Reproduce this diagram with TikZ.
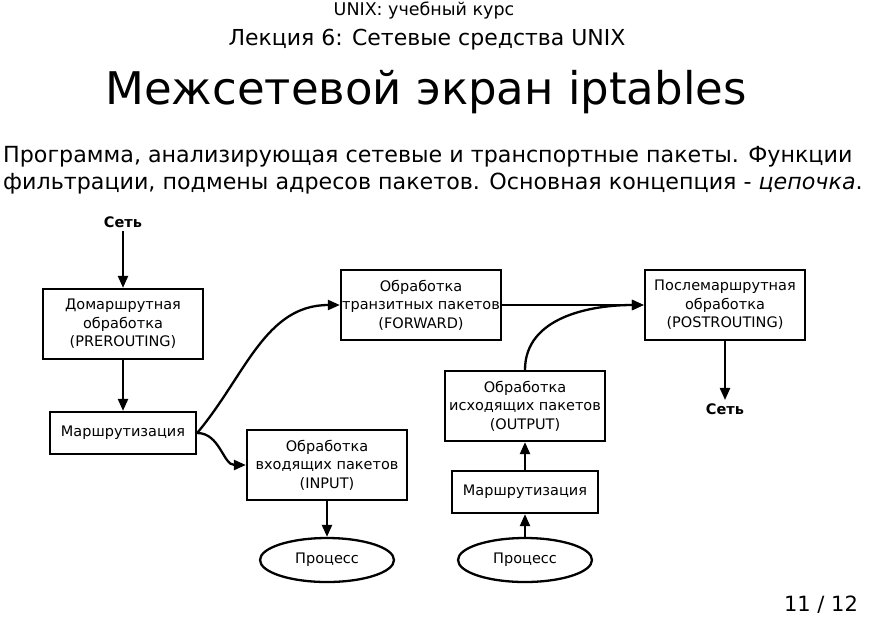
\documentclass[tikz,border=0pt]{standalone}
\usepackage{fontspec}
\setmainfont{DejaVu Sans}
\usetikzlibrary{arrows.meta,shapes.geometric}
\begin{document}
\begin{tikzpicture}[x=1pt,y=-1pt,
  txt/.style={font=\fontsize{14.5}{18.5}\selectfont},
  box/.style={txt,draw,line width=2.3pt,minimum height=70pt,minimum width=160pt,align=center,inner sep=0pt},
  rbox/.style={txt,draw,line width=2.3pt,minimum height=42pt,minimum width=146pt,align=center,inner sep=0pt},
  proc/.style={txt,draw,ellipse,line width=2.3pt,minimum height=44pt,minimum width=134pt,inner sep=0pt},
  lab/.style={font=\bfseries\fontsize{14.5}{16}\selectfont},
  arr/.style={line width=2.3pt,-{Triangle[length=12pt,width=10pt]}}
]
\useasboundingbox (0,0) rectangle (869,619);
\node (h1) at (424,11) {\fontsize{17.5}{20}\selectfont UNIX: учебный курс};
\node (h2) at (427,40) {\fontsize{22}{26}\selectfont Лекция 6: Сетевые средства UNIX};
\node (title) at (426,92) {\fontsize{45}{52}\selectfont Межсетевой экран iptables};
\node[anchor=west,align=left,font=\fontsize{22.2}{27.5}\selectfont,inner sep=0pt] (par) at (3,170) {Программа, анализирующая сетевые и транспортные пакеты. Функции\\фильтрации, подмены адресов пакетов. Основная концепция - \textit{цепочка}.};
\node (pg) at (821,605) {\fontsize{21}{24}\selectfont 11 / 12};

\node[lab] (net1) at (123,222) {Сеть};
\node[box] (pre) at (123,324) {Домаршрутная\\обработка\\(PREROUTING)};
\node[rbox] (r1) at (123,433) {Маршрутизация};
\node[box] (fwd) at (421,305) {Обработка\\транзитных пакетов\\(FORWARD)};
\node[box] (post) at (725,305) {Послемаршрутная\\обработка\\(POSTROUTING)};
\node[lab] (net2) at (725,409) {Сеть};
\node[box] (out) at (525,406) {Обработка\\исходящих пакетов\\(OUTPUT)};
\node[box] (in) at (327,465) {Обработка\\входящих пакетов\\(INPUT)};
\node[rbox] (r2) at (525,492) {Маршрутизация};
\node[proc] (p1) at (327,560) {Процесс};
\node[proc] (p2) at (525,560) {Процесс};

\draw[arr] (net1) -- (pre);
\draw[arr] (pre) -- (r1);
\draw[arr] (r1.east) to[out=50,in=180] (fwd.west);
\draw[arr] (r1.east) to[out=0,in=180] (in.west);
\draw[arr] (fwd.east) -- (post.west);
\draw[arr] (out.north) to[out=90,in=180] (post.west);
\draw[arr] (post.south) -- (net2);
\draw[arr] (in.south) -- (p1);
\draw[arr] (p2) -- (r2);
\draw[arr] (r2) -- (out);
\end{tikzpicture}
\end{document}
